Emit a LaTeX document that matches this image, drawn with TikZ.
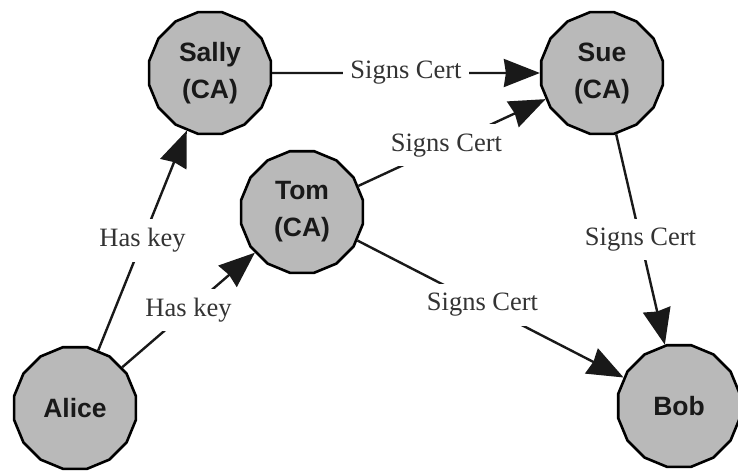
\documentclass[tikz,border=0pt]{standalone}
\usepackage{fontspec}
\setmainfont{Liberation Serif}
\newfontfamily\partyfont{Liberation Sans}
\usetikzlibrary{shapes.geometric,arrows.meta}
\definecolor{partyfill}{RGB}{185,185,185}
\tikzset{
  party/.style={regular polygon, regular polygon sides=16, minimum size=124pt,
    inner sep=1pt, draw=black, line width=2.6pt, fill=partyfill,
    font=\partyfont\bfseries\fontsize{26.5}{37}\selectfont, align=center, text=black!90},
  conn/.style={line width=2.4pt, draw=black!90},
  arrowed/.style={-{Stealth[length=36pt,width=28pt,inset=2pt]}},
  lbl/.style={fill=white, inner xsep=7pt, inner ysep=9pt,
    font=\fontsize{26.5}{30}\selectfont, text=black!80}
}
\begin{document}
\begin{tikzpicture}[x=1pt, y=-1pt]
  % page area
  \fill[white] (0,0) rectangle (738,475);
  \useasboundingbox (0,0) rectangle (738,475);

  % parties
  \node[party] (sally) at (210,73)  {Sally\\(CA)};
  \node[party] (sue)   at (602,73)  {Sue\\(CA)};
  \node[party] (tom)   at (302,212) {Tom\\(CA)};
  \node[party] (alice) at (75,408)  {Alice};
  \node[party] (bob)   at (679,406) {Bob};

  % key holding
  \draw[conn,arrowed] (alice) -- node[lbl] {Has key} (sally);
  \draw[conn,arrowed] (alice) -- node[lbl] {Has key} (tom);

  % certificate signing
  \draw[conn,arrowed] (sally) -- node[lbl] {Signs Cert} (sue);
  \draw[conn,arrowed] (tom) -- node[lbl, pos=0.47] {Signs Cert} (sue);
  \draw[conn,arrowed] (tom) -- node[lbl, pos=0.47] {Signs Cert} (bob);
  \draw[conn,arrowed] (sue) -- node[lbl] {Signs Cert} (bob);
\end{tikzpicture}
\end{document}
